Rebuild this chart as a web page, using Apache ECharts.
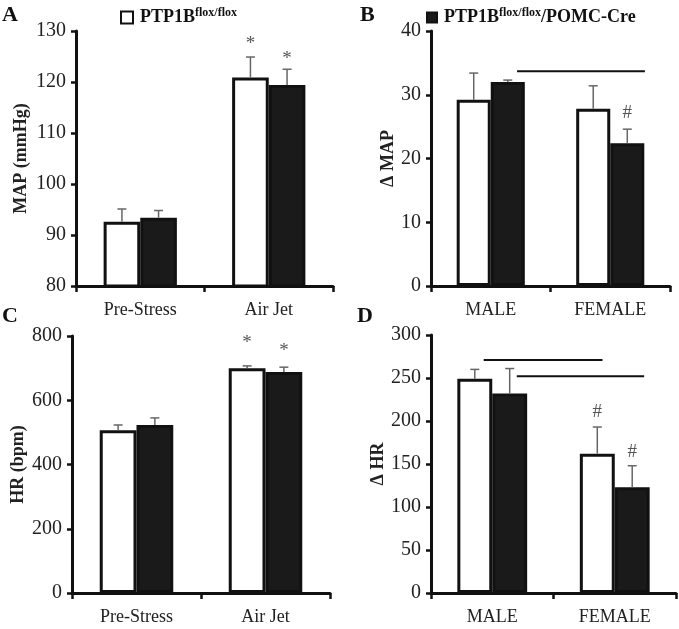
<!DOCTYPE html>
<html><head><meta charset="utf-8">
<script src="https://cdn.jsdelivr.net/npm/echarts@6/dist/echarts.min.js"></script>
<style>html,body{margin:0;padding:0;background:#fff}#c{width:679px;height:629px}</style>
</head><body><div id="c"></div>
<script>
// ---- data ----
const catStress = ['Pre-Stress', 'Air Jet'];
const catSex = ['MALE', 'FEMALE'];
const nameFlox = 'PTP1B flox/flox';
const nameCre = 'PTP1B flox/flox/POMC-Cre';

// Panel A: MAP (mmHg)
const mapFlox = [92.6, 120.9];
const mapFloxErr = [2.5, 4.0];
const mapCre = [93.4, 119.4];
const mapCreErr = [1.4, 3.1];
// Panel B: delta MAP
const dMapFlox = [29.2, 27.8];
const dMapFloxErr = [4.2, 3.6];
const dMapCre = [32.0, 22.4];
const dMapCreErr = [0.3, 2.2];
// Panel C: HR (bpm)
const hrFlox = [507, 700];
const hrFloxErr = [16, 7];
const hrCre = [523, 688];
const hrCreErr = [22, 15];
// Panel D: delta HR
const dHrFlox = [249, 162];
const dHrFloxErr = [11, 31];
const dHrCre = [232, 123];
const dHrCreErr = [29, 25];

// markers: [category, seriesIndex, value, symbol]
const markA = [[1, 0, 127.4, '*'], [1, 1, 124.6, '*']];
const markB = [[1, 1, 27.1, '#']];
const markC = [[1, 0, 779, '*'], [1, 1, 754, '*']];
const markD = [[1, 0, 210, '#'], [1, 1, 164, '#']];
// significance lines: [startCat, endCat, value] (category units)
const sigB = [[0.22, 1.29, 33.7]];
const sigD = [[-0.07, 0.90, 271], [0.20, 1.24, 252]];

// y axis ranges/ticks
const yA = {min: 80, max: 130, interval: 10};
const yB = {min: 0, max: 40, interval: 10};
const yC = {min: 0, max: 800, interval: 200};
const yD = {min: 0, max: 300, interval: 50};

// ---- chart ----
const GAP = 0.43;
const FONT = '"Liberation Serif", "Times New Roman", serif';
const chart = echarts.init(document.getElementById('c'), null, {renderer: 'canvas'});

const grids = [
  {left: 76, top: 31, width: 257, height: 255},
  {left: 431, top: 31, width: 239, height: 255},
  {left: 72, top: 336, width: 258, height: 257},
  {left: 431, top: 335, width: 245, height: 258}
];
const cats = [catStress, catSex, catStress, catSex];
const yRanges = [yA, yB, yC, yD];
const yNames = ['MAP (mmHg)', 'Δ MAP', 'HR (bpm)', 'Δ HR'];
const yNameGaps = [46, 34, 45, 34];
const floxVals = [mapFlox, dMapFlox, hrFlox, dHrFlox];
const creVals = [mapCre, dMapCre, hrCre, dHrCre];
const floxErrs = [mapFloxErr, dMapFloxErr, hrFloxErr, dHrFloxErr];
const creErrs = [mapCreErr, dMapCreErr, hrCreErr, dHrCreErr];
const marks = [markA, markB, markC, markD];
const sigs = [[], sigB, [], sigD];

const xAxes = [], yAxes = [], series = [];
for (let i = 0; i < 4; i++) {
  xAxes.push({
    type: 'category', gridIndex: i, data: cats[i],
    axisLine: {lineStyle: {color: '#111', width: 3}},
    axisTick: {show: true, length: 6, lineStyle: {color: '#111', width: 2.5}},
    axisLabel: {fontFamily: FONT, fontSize: 18, color: '#222', margin: 15}
  });
  yAxes.push({
    type: 'value', gridIndex: i, min: yRanges[i].min, max: yRanges[i].max, interval: yRanges[i].interval,
    name: yNames[i], nameLocation: 'middle', nameGap: yNameGaps[i], nameRotate: 90,
    nameTextStyle: {fontFamily: FONT, fontSize: 18, fontWeight: 'bold', color: '#222'},
    axisLine: {show: true, lineStyle: {color: '#111', width: 3}},
    axisTick: {show: true, length: 5, lineStyle: {color: '#111', width: 2.5}},
    axisLabel: {fontFamily: FONT, fontSize: 20, color: '#222', margin: 10},
    splitLine: {show: false}
  });
  series.push({
    name: nameFlox, type: 'bar', xAxisIndex: i, yAxisIndex: i, data: floxVals[i],
    barGap: '0%', barCategoryGap: (GAP * 100) + '%',
    itemStyle: {color: '#fff', borderColor: '#111', borderWidth: 3}
  });
  series.push({
    name: nameCre, type: 'bar', xAxisIndex: i, yAxisIndex: i, data: creVals[i],
    barGap: '0%', barCategoryGap: (GAP * 100) + '%',
    itemStyle: {color: '#1a1a1a', borderColor: '#111', borderWidth: 3}
  });
  const errData = [];
  for (let k = 0; k < cats[i].length; k++) {
    errData.push([k, floxVals[i][k], floxErrs[i][k], 0]);
    errData.push([k, creVals[i][k], creErrs[i][k], 1]);
  }
  series.push({
    type: 'custom', xAxisIndex: i, yAxisIndex: i, data: errData, z: 5,
    encode: {x: 0, y: 1}, silent: true,
    renderItem: function (params, api) {
      const cat = api.value(0), val = api.value(1), err = api.value(2), s = api.value(3);
      const catW = api.size([1, 0])[0];
      const barW = catW * (1 - GAP) / 2;
      const base = api.coord([cat, val]);
      const top = api.coord([cat, val + err]);
      const x = base[0] + (s === 0 ? -barW / 2 : barW / 2);
      const st = {stroke: '#666', lineWidth: 1.5};
      return {type: 'group', children: [
        {type: 'line', shape: {x1: x, y1: base[1], x2: x, y2: top[1]}, style: st},
        {type: 'line', shape: {x1: x - 4.5, y1: top[1], x2: x + 4.5, y2: top[1]}, style: st}
      ]};
    }
  });
  series.push({
    type: 'custom', xAxisIndex: i, yAxisIndex: i, data: marks[i], z: 6,
    encode: {x: 0, y: 2}, silent: true,
    renderItem: function (params, api) {
      const cat = api.value(0), s = api.value(1), val = api.value(2);
      const sym = marks[i][params.dataIndex][3];
      const catW = api.size([1, 0])[0];
      const barW = catW * (1 - GAP) / 2;
      const p = api.coord([cat, val]);
      const x = p[0] + (s === 0 ? -barW / 2 : barW / 2);
      return {type: 'text', x: x, y: p[1], style: {
        text: sym, fill: '#555', font: '19px ' + FONT, align: 'center', verticalAlign: 'middle'
      }};
    }
  });
  if (sigs[i].length) {
    const sd = sigs[i].map(d => [0, d[2], d[0], d[1]]);
    series.push({
      type: 'custom', xAxisIndex: i, yAxisIndex: i, data: sd, z: 6,
      encode: {x: 0, y: 1}, silent: true,
      renderItem: function (params, api) {
        const y = api.value(1), a = api.value(2), b = api.value(3);
        const catW = api.size([1, 0])[0];
        const p0 = api.coord([0, y]);
        return {type: 'line', shape: {x1: p0[0] + a * catW, y1: p0[1], x2: p0[0] + b * catW, y2: p0[1]},
          style: {stroke: '#111', lineWidth: 2}};
      }
    });
  }
}

const legendRich = {
  b: {fontFamily: FONT, fontSize: 18, fontWeight: 'bold', color: '#111'},
  p: {fontFamily: FONT, fontSize: 18, fontWeight: 'bold', color: '#111', padding: [0, 0, 0, 2]},
  s: {fontFamily: FONT, fontSize: 12, fontWeight: 'bold', color: '#111', padding: [0, 0, 9, 0]}
};
const legendFmt = function (name) {
  if (name === nameFlox) return '{p|PTP1B}{s|flox/flox}';
  return '{p|PTP1B}{s|flox/flox}{b|/POMC-Cre}';
};

const letters = [['A', 2, 4], ['B', 360, 4], ['C', 2, 305], ['D', 357, 305]];

chart.setOption({
  animation: false,
  backgroundColor: '#fff',
  grid: grids,
  xAxis: xAxes,
  yAxis: yAxes,
  series: series,
  legend: [
    {data: [nameFlox], left: 115, top: 2, icon: 'rect', itemWidth: 12, itemHeight: 12, itemGap: 8,
      selectedMode: false, formatter: legendFmt, textStyle: {rich: legendRich}},
    {data: [nameCre], left: 421, top: 2, icon: 'rect', itemWidth: 10, itemHeight: 10, itemGap: 8,
      selectedMode: false, formatter: legendFmt, textStyle: {rich: legendRich}}
  ],
  graphic: letters.map(l => ({
    type: 'text', left: l[1], top: l[2],
    style: {text: l[0], font: 'bold 22px ' + FONT, fill: '#111'}
  }))
});
</script>
</body></html>
